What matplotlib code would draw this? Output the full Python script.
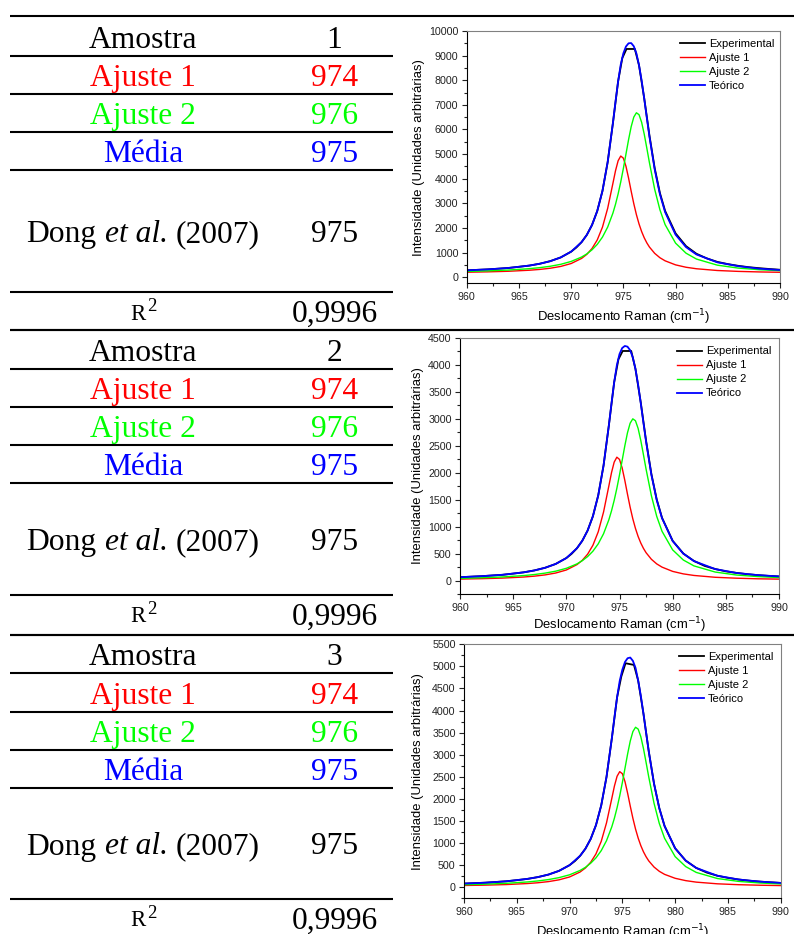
import matplotlib
matplotlib.use("Agg")
import matplotlib.pyplot as plt
from matplotlib.ticker import MultipleLocator

plt.rcParams['font.family'] = ['Liberation Sans', 'DejaVu Sans']

# ---------------- table contents ----------------
row_labels = ["Amostra", "Ajuste 1", "Ajuste 2", "Média"]
dong_parts = ["Dong", "et al.", "(2007)"]
r2_base, r2_exponent = "R", "2"
samples = ["1", "2", "3"]
fit1_center = [974, 974, 974]
fit2_center = [976, 976, 976]
mean_center = [975, 975, 975]
dong_center = [975, 975, 975]
r_squared = ["0,9996", "0,9996", "0,9996"]

# ---------------- spectra ----------------
raman_shift_fit = [960, 962, 964, 966, 967, 968, 969, 970, 971, 971.5, 972, 972.5,
                   973, 973.5, 974, 974.25, 974.5, 974.75, 975, 975.25, 975.5, 975.75,
                   976, 976.25, 976.5, 976.75, 977, 977.25, 977.5, 978, 978.5, 979,
                   980, 981, 982, 984, 986, 988, 990]
raman_shift_exp = [960, 961, 962, 963, 964, 965, 966, 967, 968, 969, 970, 970.5, 971,
                   971.5, 972, 972.5, 973, 973.5, 974, 974.5, 974.9, 975.3, 976.1,
                   976.5, 977, 977.5, 978, 978.5, 979, 980, 981, 982, 983, 984, 985,
                   986, 987, 988, 989, 990]

# sample 1
experimental_1 = [275, 296, 315, 343, 373, 420, 470, 545, 650, 800, 1035, 1205, 1423,
                  1715, 2119, 2686, 3503, 4678, 6255, 7957, 8900, 9270, 9270, 8609,
                  7260, 5750, 4430, 3420, 2690, 1780, 1260, 950, 760, 620, 530, 460,
                  405, 365, 330, 300]
fit1_1 = [200, 215, 239, 281, 314, 362, 435, 553, 761, 926, 1163, 1511, 2031, 2798,
          3809, 4324, 4729, 4920, 4834, 4505, 4024, 3489, 2984, 2539, 2163, 1852, 1598,
          1391, 1222, 967, 789, 663, 499, 402, 341, 270, 234, 212, 198]
fit2_1 = [232, 255, 289, 344, 386, 442, 521, 638, 817, 944, 1111, 1330, 1627, 2035,
          2601, 2962, 3383, 3869, 4413, 4999, 5586, 6114, 6503, 6678, 6601, 6291, 5808,
          5234, 4644, 3569, 2739, 2133, 1382, 974, 735, 487, 368, 303, 263]
theory_1 = [277, 315, 373, 470, 545, 649, 801, 1036, 1423, 1715, 2119, 2686, 3503,
            4678, 6255, 7131, 7957, 8634, 9092, 9370, 9500, 9510, 9380, 9090, 8609,
            7988, 7251, 6470, 5711, 4381, 3373, 2641, 1726, 1221, 921, 602, 447, 345,
            290]

# sample 2
experimental_2 = [66, 76, 85, 98, 111, 133, 157, 192, 241, 312, 421, 500, 603, 741,
                  930, 1196, 1581, 2134, 2877, 3676, 4100, 4254, 4254, 3923, 3300,
                  2590, 1975, 1505, 1165, 740, 505, 367, 276, 218, 175, 146, 122, 105,
                  91, 80]
fit1_2 = [32, 39, 50, 70, 86, 109, 144, 200, 300, 379, 492, 658, 907, 1273, 1757,
          2003, 2197, 2288, 2247, 2089, 1859, 1604, 1362, 1149, 970, 821, 700, 601,
          520, 398, 313, 253, 174, 128, 99, 65, 48, 37, 31]
fit2_2 = [45, 56, 71, 97, 116, 142, 178, 231, 313, 372, 448, 548, 684, 871, 1130,
          1296, 1489, 1711, 1960, 2229, 2498, 2740, 2917, 2998, 2963, 2821, 2599, 2336,
          2066, 1574, 1193, 916, 572, 385, 276, 162, 107, 78, 60]
theory_2 = [67, 85, 111, 157, 192, 241, 312, 421, 603, 741, 930, 1196, 1581, 2134,
            2877, 3289, 3676, 3989, 4197, 4308, 4347, 4334, 4269, 4137, 3923, 3632,
            3289, 2927, 2576, 1962, 1496, 1159, 736, 503, 365, 217, 145, 105, 81]

# sample 3
experimental_3 = [83, 93, 103, 119, 135, 160, 189, 230, 287, 371, 500, 592, 712, 872,
                  1094, 1405, 1854, 2498, 3363, 4298, 4770, 5071, 5033, 4677, 3929,
                  3079, 2346, 1790, 1386, 882, 603, 437, 332, 261, 212, 176, 148, 128,
                  112, 98]
fit1_3 = [40, 48, 61, 84, 102, 128, 168, 233, 346, 436, 565, 755, 1040, 1458, 2010,
          2292, 2513, 2617, 2571, 2391, 2128, 1836, 1560, 1317, 1112, 942, 803, 690,
          597, 458, 361, 292, 203, 150, 116, 78, 58, 46, 38]
fit2_3 = [58, 70, 89, 120, 143, 174, 218, 282, 381, 451, 544, 665, 829, 1055, 1368,
          1567, 1800, 2069, 2370, 2694, 3019, 3311, 3525, 3622, 3580, 3408, 3141, 2824,
          2497, 1903, 1444, 1109, 694, 468, 336, 198, 133, 97, 75]
theory_3 = [83, 103, 135, 189, 230, 287, 371, 500, 712, 872, 1094, 1405, 1854, 2498,
            3363, 3844, 4298, 4671, 4926, 5100, 5185, 5200, 5125, 4965, 4677, 4335,
            3929, 3499, 3079, 2346, 1790, 1386, 882, 603, 437, 261, 176, 128, 98]

series_labels = ["Experimental", "Ajuste 1", "Ajuste 2", "Teórico"]
y_top = [10000, 4500, 5500]
y_major = [1000, 500, 500]

# ---------------- styling / layout ----------------
RED, GREEN, BLUE = "#ff0000", "#00ff00", "#0000ff"
W, H = 794, 934
fig = plt.figure(figsize=(W / 100, H / 100), dpi=100)
renderer = fig.canvas.get_renderer()

bg = fig.add_axes([0, 0, 1, 1])
bg.set_xlim(0, W)
bg.set_ylim(H, 0)
bg.axis("off")

# horizontal rules of the table (pixel rows)
section_rules = [
    [16, 56, 94, 132, 170, 292, 330],
    [330, 369, 407, 445, 483, 595, 635],
    [635, 673, 712, 750, 788, 899],
]
full_width_rules = [16, 330, 635]
for rules in section_rules:
    for y in rules:
        x1 = W if y in full_width_rules else 393
        bg.plot([10, x1], [y, y], color="black", lw=1.5, solid_capstyle="butt")

col1_x, col2_x = 143, 334.5
row_colors = ["black", RED, GREEN, BLUE]
serif = "Liberation Serif"
FS = 22.7
txt_kw = dict(family=serif, fontsize=FS, ha="center", va="baseline")
space_px = 0.25 * FS * 100 / 72


def dong_label(y):
    """Draw 'Dong et al. (2007)' centred on the first column, 'et al.' in italics."""
    styles = ["normal", "italic", "normal"]
    pieces = [bg.text(0, y, s, family=serif, fontsize=FS, style=st, ha="left",
                      va="baseline") for s, st in zip(dong_parts, styles)]
    widths = [p.get_window_extent(renderer).width for p in pieces]
    x = col1_x - (sum(widths) + 2 * space_px) / 2
    for p, w in zip(pieces, widths):
        p.set_x(x)
        x += w + space_px


for i, rules in enumerate(section_rules):
    values = [samples[i], str(fit1_center[i]), str(fit2_center[i]),
              str(mean_center[i])]
    baselines = [rules[1] - 8, rules[2] - 8, rules[3] - 8, rules[4] - 8]
    for lab, val, yb, col in zip(row_labels, values, baselines, row_colors):
        bg.text(col1_x, yb, lab, color=col, **txt_kw)
        bg.text(col2_x, yb, val, color=col, **txt_kw)
    y_dong = (rules[4] + rules[5]) / 2 + 11
    dong_label(y_dong)
    bg.text(col2_x, y_dong, str(dong_center[i]), color="black", **txt_kw)
    # R² row
    bg.text(130.5, rules[5] + 27.5, r2_base, family=serif, fontsize=16.5,
            ha="left", va="baseline", color="black")
    bg.text(146.8, rules[5] + 18.8, r2_exponent, family=serif, fontsize=13.5,
            ha="left", va="baseline", color="black")
    bg.text(col2_x, rules[5] + 29.5, r_squared[i], color="black", **txt_kw)

panels = [
    dict(box=(466.7, 780, 31, 283.3), ylab_x=-0.133, xlab_y=-0.152,
         leg=(0.681, 0.968),
         data=(experimental_1, fit1_1, fit2_1, theory_1)),
    dict(box=(460, 779, 337.7, 594.3), ylab_x=-0.113, xlab_y=-0.135,
         leg=(0.681, 0.966),
         data=(experimental_2, fit1_2, fit2_2, theory_2)),
    dict(box=(464, 780.7, 644.3, 898.3), ylab_x=-0.126, xlab_y=-0.148,
         leg=(0.680, 0.969),
         data=(experimental_3, fit1_3, fit2_3, theory_3)),
]

for k, p in enumerate(panels):
    l, r, t, b = p["box"]
    ax = fig.add_axes([l / W, (H - b) / H, (r - l) / W, (b - t) / H])
    exp_y, f1, f2, th = p["data"]
    ax.plot(raman_shift_exp, exp_y, color="black", lw=1.3, label=series_labels[0])
    ax.plot(raman_shift_fit, f1, color=RED, lw=1.0, label=series_labels[1])
    ax.plot(raman_shift_fit, f2, color=GREEN, lw=1.0, label=series_labels[2])
    ax.plot(raman_shift_fit, th, color=BLUE, lw=1.3, label=series_labels[3])

    ax.set_xlim(960, 990)
    ax.set_ylim(-250, y_top[k])
    ax.xaxis.set_major_locator(MultipleLocator(5))
    ax.xaxis.set_minor_locator(MultipleLocator(2.5))
    ax.yaxis.set_major_locator(MultipleLocator(y_major[k]))
    ax.yaxis.set_minor_locator(MultipleLocator(y_major[k] / 2))
    ax.tick_params(which="both", direction="out", top=False, right=False,
                   width=0.8, colors="#222222", labelsize=7.7, pad=2.5)
    ax.tick_params(which="major", length=3.5)
    ax.tick_params(which="minor", length=2)
    for side in ("left", "bottom"):
        ax.spines[side].set_color("black")
        ax.spines[side].set_linewidth(0.8)
    for side in ("top", "right"):
        ax.spines[side].set_color("#808080")
        ax.spines[side].set_linewidth(0.8)

    ax.set_ylabel("Intensidade (Unidades arbitrárias)", fontsize=9.4)
    ax.set_xlabel(r"Deslocamento Raman (cm$^{-1}$)", fontsize=9.4,
                  math_fontfamily="dejavusans")
    ax.yaxis.set_label_coords(p["ylab_x"], 0.5)
    ax.xaxis.set_label_coords(0.5, p["xlab_y"])
    ax.xaxis.label.set_va("baseline")

    ax.legend(loc="upper left", bbox_to_anchor=p["leg"], frameon=False,
              fontsize=8, handlelength=2.25, handletextpad=0.35,
              labelspacing=0.36, borderpad=0, borderaxespad=0)

fig.savefig("out.png", dpi=100)
